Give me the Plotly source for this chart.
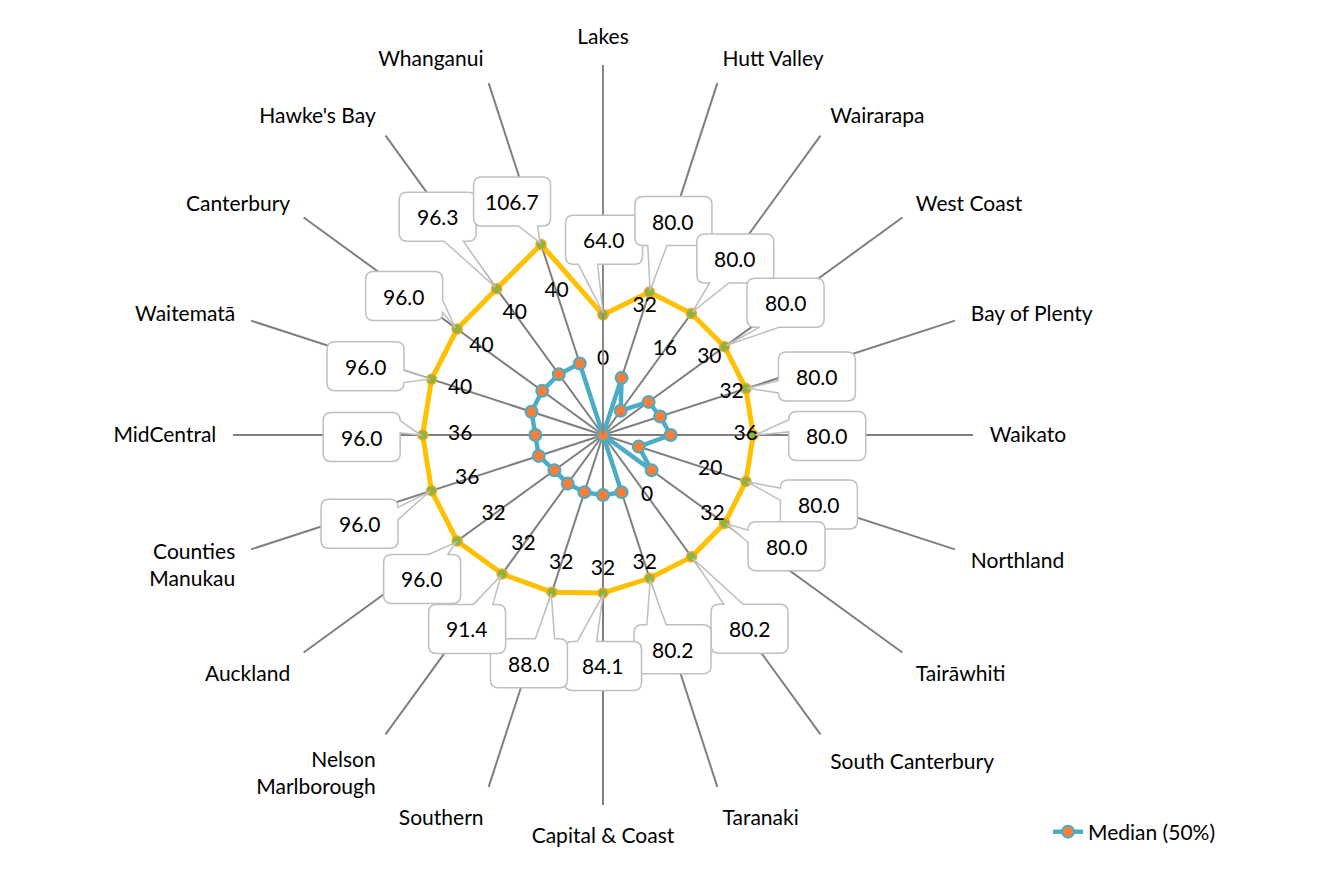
import math
import plotly.graph_objects as go

# ---------------- data ----------------
categories = ["Lakes", "Hutt Valley", "Wairarapa", "West Coast", "Bay of Plenty", "Waikato",
              "Northland", "Tairāwhiti", "South Canterbury", "Taranaki", "Capital & Coast",
              "Southern", "Nelson Marlborough", "Auckland", "Counties Manukau", "MidCentral",
              "Waitematā", "Canterbury", "Hawke's Bay", "Whanganui"]
tick_labels = ["Lakes", "Hutt Valley", "Wairarapa", "West Coast", "Bay of Plenty", "Waikato",
               "Northland", "Tairāwhiti", "South Canterbury", "Taranaki", "Capital & Coast",
               "Southern", "Nelson<br>Marlborough", "Auckland", "Counties<br>Manukau", "MidCentral",
               "Waitematā", "Canterbury", "Hawke's Bay", "Whanganui"]
maximum = [64.0, 80.0, 80.0, 80.0, 80.0, 80.0, 80.0, 80.0, 80.2, 80.2, 84.1,
           88.0, 91.4, 96.0, 96.0, 96.0, 96.0, 96.0, 96.3, 106.7]
median = [0, 32, 16, 30, 32, 36, 20, 32, 0, 32, 32, 32, 32, 32, 36, 36, 40, 40, 40, 40]

# ---------------- layout constants ----------------
W, H = 1340, 878
CX, CY, RPX = 595, 427, 370       # polar centre and radius in figure pixels
RMAX = 197                        # radial range upper bound
LABEL_OFFSET = 40                 # radial offset of median value labels (data units)
BOX_W, BOX_H, BOX_R = 77, 49, 8   # callout box size / corner radius (px)
# pixel offsets of callout boxes relative to their points (x right, y down)
box_offsets = [(1, -75), (24, -71), (44, -55), (61, -44), (71, -12), (74, 1), (73, 23),
               (62, 23), (58, 72), (23, 71), (0, 73), (-23, 71), (-35, 55), (-35, 38),
               (-72, 33), (-61, 2), (-66, -13), (-53, -33), (-59, -72), (-29, -43)]

FONT = "Lato"
FS = 21
TXT = "#000000"


def to_paper(x, y):
    return x / W, 1 - y / H


def callout_path(px, py, bx, by, w=BOX_W, h=BOX_H, r=BOX_R, standoff=2):
    """Rounded-rectangle callout (Office wedgeRoundRectCallout style) in paper coords."""
    x0, x1, y0, y1 = bx - w / 2, bx + w / 2, by - h / 2, by + h / 2
    dx, dy = px - bx, py - by
    d = math.hypot(dx, dy)
    tx, ty = px - dx / d * standoff, py - dy / d * standoff
    dz = abs(dy) - abs(dx * h / w)
    xa = x0 + w * (7 if dx > 0 else 2) / 12
    xb = x0 + w * (10 if dx > 0 else 5) / 12
    ya = y0 + h * (7 if dy > 0 else 2) / 12
    yb = y0 + h * (10 if dy > 0 else 5) / 12
    pts = [("M", (x0 + r, y0))]
    if dz > 0 and dy < 0:
        pts += [("L", (xa, y0)), ("L", (tx, ty)), ("L", (xb, y0))]
    pts += [("L", (x1 - r, y0)), ("Q", (x1, y0), (x1, y0 + r))]
    if dz <= 0 and dx > 0:
        pts += [("L", (x1, ya)), ("L", (tx, ty)), ("L", (x1, yb))]
    pts += [("L", (x1, y1 - r)), ("Q", (x1, y1), (x1 - r, y1))]
    if dz > 0 and dy > 0:
        pts += [("L", (xb, y1)), ("L", (tx, ty)), ("L", (xa, y1))]
    pts += [("L", (x0 + r, y1)), ("Q", (x0, y1), (x0, y1 - r))]
    if dz <= 0 and dx < 0:
        pts += [("L", (x0, yb)), ("L", (tx, ty)), ("L", (x0, ya))]
    pts += [("L", (x0, y0 + r)), ("Q", (x0, y0), (x0 + r, y0))]
    out = []
    for item in pts:
        cmd, coords = item[0], item[1:]
        s = " ".join("%.5f,%.5f" % to_paper(*c) for c in coords)
        out.append(f"{cmd} {s}")
    return " ".join(out) + " Z"


fig = go.Figure()

fig.add_trace(go.Scatterpolar(
    r=maximum + maximum[:1], theta=categories + categories[:1],
    mode="lines+markers", name="Maximum", showlegend=False,
    line=dict(color="#FFC000", width=5),
    marker=dict(size=10, color="#8DB43B", line=dict(color="#F5A623", width=1.5)),
    hoverinfo="skip"))

fig.add_trace(go.Scatterpolar(
    r=median + median[:1], theta=categories + categories[:1],
    mode="lines+markers", name="Median (50%)",
    line=dict(color="#4BACC6", width=4.5),
    marker=dict(size=12, color="#F47E3C", line=dict(color="#4BACC6", width=2))))

fig.add_trace(go.Scatterpolar(
    r=[v + LABEL_OFFSET for v in median], theta=categories,
    mode="text", text=[f"{v:g}" for v in median], showlegend=False,
    textfont=dict(family=FONT, size=FS, color=TXT), hoverinfo="skip"))

# callout labels for maximum series
n = len(categories)
for i, (v, (ox, oy)) in enumerate(zip(maximum, box_offsets)):
    ang = 2 * math.pi * i / n
    rp = v / RMAX * RPX
    px = CX + rp * math.sin(ang)
    py = CY - rp * math.cos(ang)
    bx, by = px + ox, py + oy
    fig.add_shape(type="path", path=callout_path(px, py, bx, by), xref="paper", yref="paper",
                  fillcolor="#FFFFFF", line=dict(color="#BFBFBF", width=1.5), layer="above")
    tx, ty = to_paper(bx, by)
    fig.add_annotation(x=tx, y=ty, xref="paper", yref="paper", text=f"{v:.1f}",
                       showarrow=False, xanchor="center", yanchor="middle",
                       font=dict(family=FONT, size=FS, color=TXT))

fig.update_layout(
    width=W, height=H,
    margin=dict(l=0, r=0, t=0, b=0),
    paper_bgcolor="white", plot_bgcolor="white",
    font=dict(family=FONT, size=FS, color=TXT),
    polar=dict(
        domain=dict(x=[(CX - RPX) / W, (CX + RPX) / W], y=[1 - (CY + RPX) / H, 1 - (CY - RPX) / H]),
        bgcolor="rgba(0,0,0,0)",
        radialaxis=dict(range=[0, RMAX], showgrid=False, showticklabels=False, ticks="",
                        showline=True, linecolor="#888888", linewidth=2, angle=90),
        angularaxis=dict(direction="clockwise", rotation=90, categoryorder="array",
                         categoryarray=categories, tickmode="array", tickvals=categories,
                         ticktext=tick_labels, showline=False, showgrid=True,
                         gridcolor="#7F7F7F", gridwidth=1.5, ticks="outside", ticklen=12,
                         tickcolor="rgba(0,0,0,0)",
                         tickfont=dict(family=FONT, size=FS, color=TXT))),
    legend=dict(x=1040 / W, y=1 - 824 / H, xanchor="left", yanchor="middle",
                font=dict(family=FONT, size=FS, color=TXT), bgcolor="rgba(0,0,0,0)"),
)

fig.write_html("out.html")
